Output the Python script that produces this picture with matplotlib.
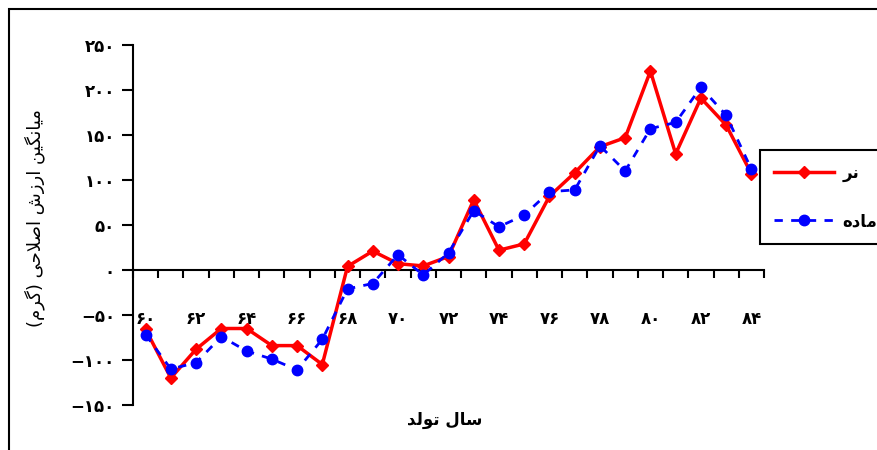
import matplotlib
matplotlib.use("Agg")
import matplotlib.pyplot as plt
from matplotlib.patches import Rectangle

plt.rcParams['font.family'] = ['DejaVu Sans']
plt.rcParams['font.weight'] = 'bold'

# داده‌ها
years = list(range(60, 85))
male = [-66, -120, -88, -65, -65, -84, -84, -105, 4, 21, 7, 4.5, 15,
        78, 22, 29, 82, 108, 137, 147, 221, 129, 191, 161, 107]
female = [-72, -110, -103, -74, -90, -99, -111, -77, -21, -15, 17, -5.5, 19,
          66, 48, 61, 87, 89, 138, 110, 157, 164, 203, 172, 112]
y_ticks = [-150, -100, -50, 0, 50, 100, 150, 200, 250]
x_label_years = list(range(60, 85, 2))
x_title = 'سال تولد'
y_title = 'میانگین ارزش اصلاحی (گرم)'
male_name = 'نر'
female_name = 'ماده'

FA_DIGITS = str.maketrans('0123456789-', '۰۱۲۳۴۵۶۷۸۹−')

# شکل حروف: (تنها، پایانی، آغازی، میانی)
FORMS = {
    'ا': ('\ufe8d', '\ufe8e', None, None),
    'ت': ('\ufe95', '\ufe96', '\ufe97', '\ufe98'),
    'ح': ('\ufea1', '\ufea2', '\ufea3', '\ufea4'),
    'د': ('\ufea9', '\ufeaa', None, None),
    'ر': ('\ufead', '\ufeae', None, None),
    'ز': ('\ufeaf', '\ufeb0', None, None),
    'س': ('\ufeb1', '\ufeb2', '\ufeb3', '\ufeb4'),
    'ش': ('\ufeb5', '\ufeb6', '\ufeb7', '\ufeb8'),
    'ص': ('\ufeb9', '\ufeba', '\ufebb', '\ufebc'),
    'ل': ('\ufedd', '\ufede', '\ufedf', '\ufee0'),
    'م': ('\ufee1', '\ufee2', '\ufee3', '\ufee4'),
    'ن': ('\ufee5', '\ufee6', '\ufee7', '\ufee8'),
    'ه': ('\ufee9', '\ufeea', '\ufeeb', '\ufeec'),
    'و': ('\ufeed', '\ufeee', None, None),
    'ی': ('\ufbfc', '\ufbfd', '\ufbfe', '\ufbff'),
    'گ': ('\ufb92', '\ufb93', '\ufb94', '\ufb95'),
}


def fa(text):
    # اتصال حروف و راست به چپ کردن متن برای matplotlib
    out = []
    i, n = 0, len(text)
    prev_joins = False
    while i < n:
        c = text[i]
        if c not in FORMS:
            out.append(c)
            prev_joins = False
            i += 1
            continue
        if c == 'ل' and i + 1 < n and text[i + 1] == 'ا':
            out.append('\ufefc' if prev_joins else '\ufefb')
            prev_joins = False
            i += 2
            continue
        iso, fin, ini, med = FORMS[c]
        nxt = i + 1 < n and text[i + 1] in FORMS and ini is not None
        if prev_joins and nxt:
            g = med
        elif prev_joins:
            g = fin
        elif nxt:
            g = ini
        else:
            g = iso
        out.append(g)
        prev_joins = ini is not None
        i += 1
    mirror = {'(': ')', ')': '('}
    return ''.join(mirror.get(ch, ch) for ch in reversed(out))


fig = plt.figure(figsize=(8.78, 4.5), dpi=100)
ax = fig.add_axes([133 / 878, 1 - 405 / 450, (764 - 133) / 878, 360 / 450])

ax.plot(years, male, color='#ff0000', lw=2.5, marker='D', ms=6.5,
        label=fa(male_name), zorder=3)
ax.plot(years, female, color='#0000ff', lw=2, ls=(0, (3, 3)), marker='o', ms=7.5,
        label=fa(female_name), zorder=4)

ax.set_xlim(59.5, 84.5)
ax.set_ylim(-150, 250)

ax.spines['top'].set_visible(False)
ax.spines['right'].set_visible(False)
ax.spines['bottom'].set_position(('data', 0))
ax.spines['left'].set_linewidth(1.5)
ax.spines['bottom'].set_linewidth(1.5)

ax.set_yticks(y_ticks)
ax.set_yticklabels([str(v).translate(FA_DIGITS) for v in y_ticks], fontsize=12)
ax.tick_params(axis='y', direction='out', length=8, width=1.5, pad=5)

ax.set_xticks([y - 0.5 for y in years] + [84.5])
ax.set_xticklabels([])
ax.set_xticks(x_label_years, minor=True)
ax.set_xticklabels([str(v).translate(FA_DIGITS) for v in x_label_years],
                   minor=True, fontsize=12)
ax.tick_params(axis='x', which='major', direction='out', length=6, width=1.5)
ax.tick_params(axis='x', which='minor', length=0, pad=29)

ax.set_ylabel(fa(y_title), fontsize=13)
ax.yaxis.set_label_coords((45 - 133) / 631, 0.52)
fig.text(445 / 878, 1 - 420 / 450, fa(x_title), fontsize=12,
         ha='center', va='center')

leg = ax.legend(loc='upper left', bbox_to_anchor=(760 / 878, 1 - 150 / 450),
                bbox_transform=fig.transFigure, fancybox=False,
                edgecolor='black', framealpha=1, fontsize=12,
                handlelength=3.6, handletextpad=0.5, labelspacing=1.8,
                borderpad=0.85, borderaxespad=0)
leg.get_frame().set_linewidth(1.5)

# کادر دور نمودار
fig.patches.append(Rectangle((9 / 878, -0.1), 1.2, 1.1 - 9 / 450,
                             transform=fig.transFigure, fill=False,
                             edgecolor='black', lw=1.5))

fig.savefig('out.png', dpi=100)
